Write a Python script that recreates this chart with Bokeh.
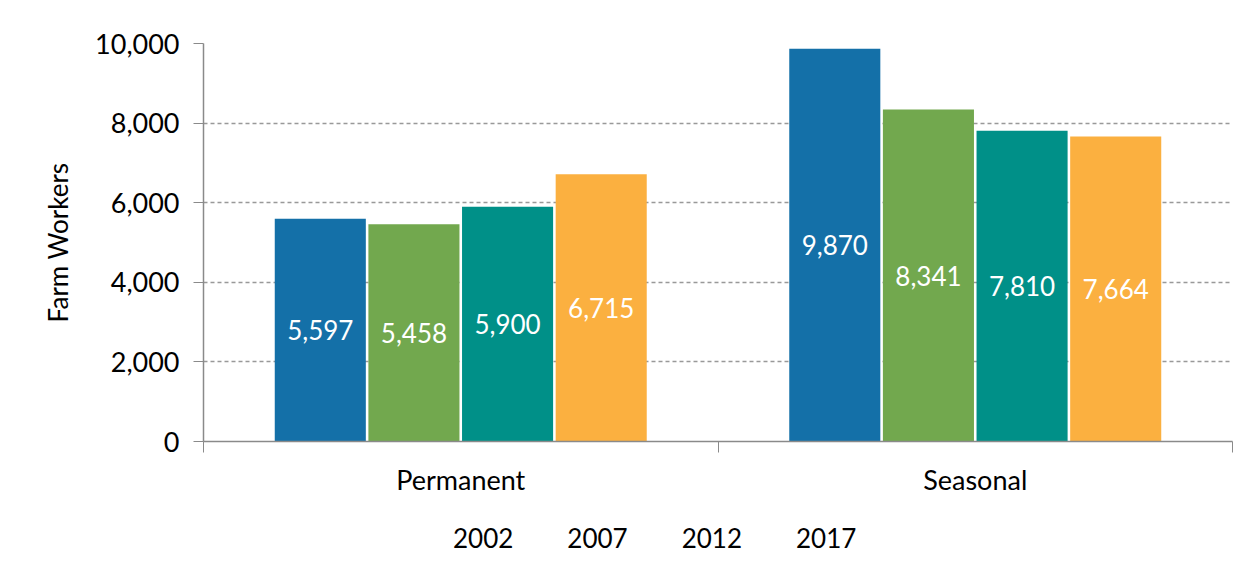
from bokeh.plotting import figure
from bokeh.layouts import column
from bokeh.models import (Range1d, LinearAxis, FixedTicker, NumeralTickFormatter, Legend,
                          LegendItem, ColumnDataSource)
from bokeh.core.properties import value
from bokeh.embed import file_html
from bokeh.resources import INLINE

categories = ["Permanent", "Seasonal"]
years = ["2002", "2007", "2012", "2017"]
workers_2002 = [5597, 9870]
workers_2007 = [5458, 8341]
workers_2012 = [5900, 7810]
workers_2017 = [6715, 7664]
colors = ["#1470A8", "#72A84E", "#009088", "#FBB040"]
y_ticks = [0, 2000, 4000, 6000, 8000, 10000]

FONT = "Lato"

cat_pos = [i + 0.5 for i in range(len(categories))]
bounds = list(range(len(categories) + 1))

p = figure(x_range=Range1d(0, len(categories)), y_range=Range1d(0, 10000),
           frame_width=1029, frame_height=398, output_backend="svg", toolbar_location=None,
           x_axis_location=None, min_border_left=203, min_border_right=8,
           min_border_top=43, min_border_bottom=70)
p.outline_line_color = None

series = [workers_2002, workers_2007, workers_2012, workers_2017]
offsets = [-0.273, -0.091, 0.091, 0.273]
for yr, vals, col, off in zip(years, series, colors, offsets):
    src = ColumnDataSource(dict(x=[c + off for c in cat_pos], val=vals,
                                mid=[v / 2 for v in vals], lab=[f"{v:,}" for v in vals]))
    p.vbar(x="x", top="val", width=0.177, source=src, fill_color=col, line_color=None)
    p.text(x="x", y="mid", text="lab", source=src,
           text_color="white", text_font=value(FONT), text_font_size="26px",
           text_align="center", text_baseline="middle")

# y axis
ya = p.yaxis[0]
ya.ticker = FixedTicker(ticks=y_ticks)
ya.formatter = NumeralTickFormatter(format="0,0")
ya.axis_label = "Farm Workers"
ya.axis_label_text_font = FONT
ya.axis_label_text_font_style = "normal"
ya.axis_label_text_font_size = "26px"
ya.axis_label_text_color = "black"
ya.axis_label_standoff = 18
ya.major_label_text_font = FONT
ya.major_label_text_font_size = "27px"
ya.major_label_text_color = "black"
ya.major_label_standoff = 14
ya.axis_line_color = "#8a8a8a"
ya.axis_line_width = 1.5
ya.major_tick_line_color = "#8a8a8a"
ya.major_tick_out = 10
ya.major_tick_in = 0
ya.minor_tick_line_color = None

p.ygrid.ticker = FixedTicker(ticks=y_ticks[1:])
p.ygrid.grid_line_color = "#999999"
p.ygrid.grid_line_dash = "4 3"
p.ygrid.grid_line_width = 1.4
p.xgrid.grid_line_color = None

# x axis: boundary ticks, no labels
xa_ticks = LinearAxis(ticker=FixedTicker(ticks=bounds),
                      major_label_overrides={b: " " for b in bounds})
xa_ticks.axis_line_color = "#8a8a8a"
xa_ticks.axis_line_width = 1.5
xa_ticks.major_tick_line_color = "#8a8a8a"
xa_ticks.major_tick_out = 11
xa_ticks.major_tick_in = 0
xa_ticks.minor_tick_line_color = None
xa_ticks.major_label_text_font_size = "1px"
xa_ticks.major_label_standoff = 0
p.add_layout(xa_ticks, "below")

# x axis: category labels
xa = LinearAxis(ticker=FixedTicker(ticks=cat_pos),
                major_label_overrides={c: n for c, n in zip(cat_pos, categories)})
xa.axis_line_color = None
xa.major_tick_line_color = None
xa.minor_tick_line_color = None
xa.major_label_text_font = FONT
xa.major_label_text_font_size = "27px"
xa.major_label_text_color = "black"
xa.major_label_standoff = 0
p.add_layout(xa, "below")

# legend strip below the chart
lg = figure(x_range=Range1d(0, 1), y_range=Range1d(0, 1),
            frame_width=1029, frame_height=50, output_backend="svg", toolbar_location=None,
            x_axis_location=None, y_axis_location=None, min_border_left=203,
            min_border_right=8, min_border_top=0, min_border_bottom=0)
lg.outline_line_color = None
lg.xgrid.grid_line_color = None
lg.ygrid.grid_line_color = None
items = []
for yr, col in zip(years, colors):
    rr = lg.vbar(x=[], top=[], width=0.1, fill_color=col, line_color=None)
    items.append(LegendItem(label=yr, renderers=[rr]))

legend = Legend(items=items, orientation="horizontal", location=(227, 7),
                label_text_font=FONT, label_text_font_size="26px", label_text_color="black",
                glyph_width=13, glyph_height=13, spacing=31, label_standoff=10,
                border_line_color=None, background_fill_alpha=0, padding=0, margin=0)
lg.add_layout(legend, "center")

layout = column(p, lg, spacing=0)
open("out.html", "w").write(file_html(layout, INLINE))
